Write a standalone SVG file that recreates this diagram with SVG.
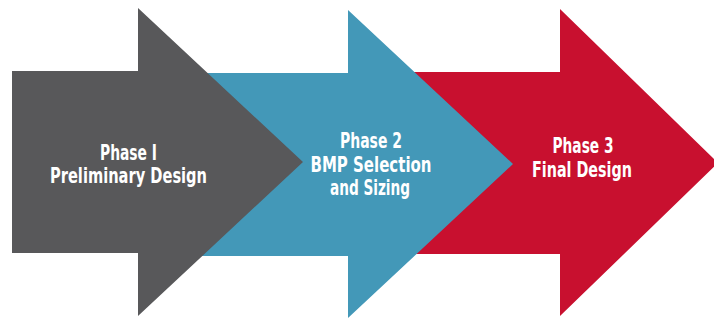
<svg xmlns="http://www.w3.org/2000/svg" width="714" height="320" viewBox="0 0 714 320">
  <style>
    .lbl { font-family: "Liberation Sans Narrow", "DejaVu Sans Condensed", "Liberation Sans", sans-serif; font-weight: bold; font-size: 22px; fill: #ffffff; text-anchor: middle; }
  </style>
  <rect width="714" height="320" fill="#ffffff"/>
  <g id="phase3">
    <polygon points="380,72 560,72 560,9 718,163 560,316 560,254 380,254" fill="#c8102f"/>
    <text class="lbl" x="583" y="153" textLength="61" lengthAdjust="spacingAndGlyphs">Phase 3</text>
    <text class="lbl" x="582" y="177" textLength="100" lengthAdjust="spacingAndGlyphs">Final Design</text>
  </g>
  <g id="phase2">
    <polygon points="170,73 348,73 348,10 513,164 348,318 348,256 170,256" fill="#4398b8"/>
    <text class="lbl" x="371" y="148" textLength="62" lengthAdjust="spacingAndGlyphs">Phase 2</text>
    <text class="lbl" x="371" y="172" textLength="121" lengthAdjust="spacingAndGlyphs">BMP Selection</text>
    <text class="lbl" x="370" y="195" textLength="80" lengthAdjust="spacingAndGlyphs">and Sizing</text>
  </g>
  <g id="phase1">
    <polygon points="12,71 138,71 138,8 303,162 138,316 138,253 12,253" fill="#58585a"/>
    <text class="lbl" x="128.5" y="160" textLength="57" lengthAdjust="spacingAndGlyphs">Phase I</text>
    <text class="lbl" x="128.5" y="183" textLength="157" lengthAdjust="spacingAndGlyphs">Preliminary Design</text>
  </g>
  <g id="connectors"></g>
</svg>
